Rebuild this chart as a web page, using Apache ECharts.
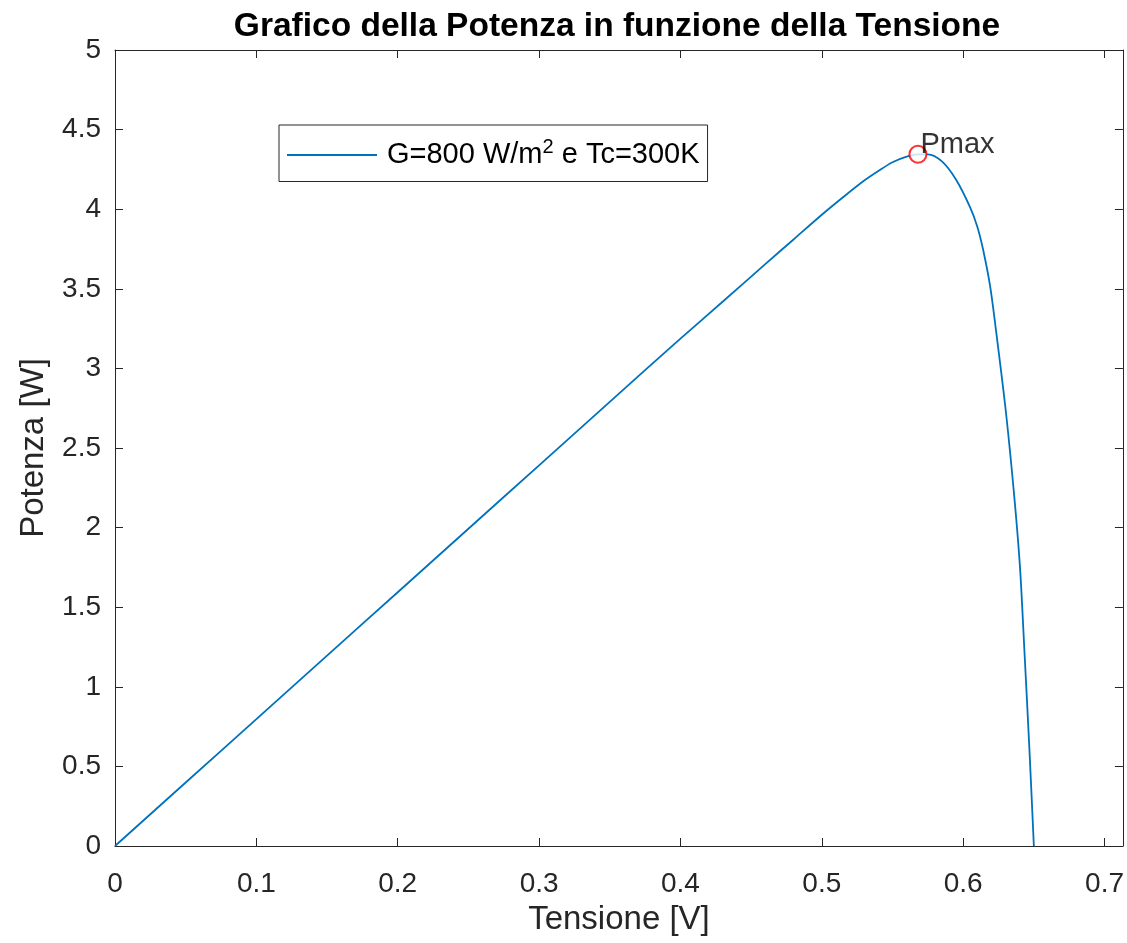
<!DOCTYPE html>
<html>
<head>
<meta charset="utf-8">
<script src="https://cdn.jsdelivr.net/npm/echarts@6/dist/echarts.min.js"></script>
<style>
html,body{margin:0;padding:0;background:#fff;}
#chart{width:1127px;height:943px;}
</style>
</head>
<body>
<div id="chart"></div>
<script>
// Tensione [V]
const voltage = [0, 0.05, 0.1, 0.15, 0.2, 0.25, 0.3, 0.35, 0.4, 0.43, 0.46, 0.48, 0.5, 0.515, 0.53, 0.54, 0.55, 0.56, 0.568, 0.575, 0.585, 0.595, 0.605, 0.61, 0.614, 0.619, 0.6232, 0.6303, 0.6362, 0.6402, 0.6433, 0.6469, 0.650];
// Potenza [W]
const power = [0, 0.399, 0.797, 1.196, 1.594, 1.993, 2.391, 2.790, 3.187, 3.42, 3.655, 3.81, 3.965, 4.075, 4.18, 4.24, 4.295, 4.33, 4.345, 4.345, 4.30, 4.185, 4.01, 3.89, 3.75, 3.52, 3.24, 2.72, 2.19, 1.75, 1.23, 0.60, 0];
// Punto di massima potenza
const pmaxV = [0.568];
const pmaxP = [4.345];
const xTicks = [0, 0.1, 0.2, 0.3, 0.4, 0.5, 0.6, 0.7];
const yTicks = [0, 0.5, 1, 1.5, 2, 2.5, 3, 3.5, 4, 4.5, 5];

const FONT = 'Liberation Sans';
const AX = '#262626';

const chart = echarts.init(document.getElementById('chart'));
const curve = voltage.map((v, i) => [v, power[i]]);
const pmax = pmaxV.map((v, i) => [v, pmaxP[i]]);

function axisCommon(extra) {
  return Object.assign({
    type: 'value',
    axisLine: {show: true, onZero: false, lineStyle: {color: AX, width: 1}},
    axisTick: {show: true, inside: true, length: 8, lineStyle: {color: AX, width: 1}},
    splitLine: {show: false},
    axisLabel: {show: false}
  }, extra);
}

chart.setOption({
  backgroundColor: '#ffffff',
  animation: false,
  title: {
    text: 'Grafico della Potenza in funzione della Tensione',
    left: 612, top: 5, textAlign: 'center',
    textStyle: {fontFamily: FONT, fontWeight: 'bold', fontSize: 33.5, color: '#000'}
  },
  grid: {left: 115, right: 4, top: 50, bottom: 97, containLabel: false},
  legend: {
    left: 279, top: 125,
    orient: 'vertical',
    data: ['G'],
    formatter: () => 'G=800 W/m{sup|2} e Tc=300K',
    icon: 'rect',
    itemWidth: 90, itemHeight: 2,
    itemGap: 0,
    padding: [12, 8, 12, 8],
    borderColor: AX, borderWidth: 1,
    backgroundColor: '#fff',
    textStyle: {
      fontFamily: FONT, fontSize: 29, color: '#000', padding: [0, 0, 0, 5],
      rich: {sup: {fontFamily: FONT, fontSize: 20, color: '#000', verticalAlign: 'bottom', padding: [0, 0, 16, 0]}}
    }
  },
  xAxis: [
    axisCommon({
      position: 'bottom', min: 0, max: 0.713, interval: 0.1,
      name: 'Tensione [V]', nameLocation: 'middle', nameGap: 57,
      nameTextStyle: {fontFamily: FONT, fontSize: 33, color: AX},
      axisLabel: {
        show: true, showMaxLabel: false, margin: 24,
        fontFamily: FONT, fontSize: 28, color: AX,
        formatter: v => xTicks.some(t => Math.abs(t - v) < 1e-9) ? String(Math.round(v * 10) / 10) : ''
      }
    }),
    axisCommon({position: 'top', min: 0, max: 0.713, interval: 0.1})
  ],
  yAxis: [
    axisCommon({
      position: 'left', min: 0, max: 5, interval: 0.5,
      name: 'Potenza [W]', nameLocation: 'middle', nameGap: 65,
      nameTextStyle: {fontFamily: FONT, fontSize: 33, color: AX},
      axisLabel: {
        show: true, margin: 14,
        fontFamily: FONT, fontSize: 28, color: AX,
        formatter: v => yTicks.some(t => Math.abs(t - v) < 1e-9) ? String(v) : ''
      }
    }),
    axisCommon({position: 'right', min: 0, max: 5, interval: 0.5})
  ],
  series: [
    {
      name: 'G',
      type: 'line',
      data: curve,
      xAxisIndex: 0, yAxisIndex: 0,
      showSymbol: false,
      smooth: 0.3,
      lineStyle: {color: '#0072BD', width: 1.8},
      itemStyle: {color: '#0072BD'},
      z: 2
    },
    {
      name: 'Pmax',
      type: 'scatter',
      data: pmax,
      xAxisIndex: 0, yAxisIndex: 0,
      symbol: 'emptyCircle',
      symbolSize: 17,
      itemStyle: {color: '#ff0000', borderColor: '#ff0000', borderWidth: 1.5},
      label: {
        show: true, formatter: 'Pmax', position: [12, -14],
        fontFamily: FONT, fontSize: 29, color: '#000'
      },
      z: 3
    }
  ]
});
</script>
</body>
</html>
